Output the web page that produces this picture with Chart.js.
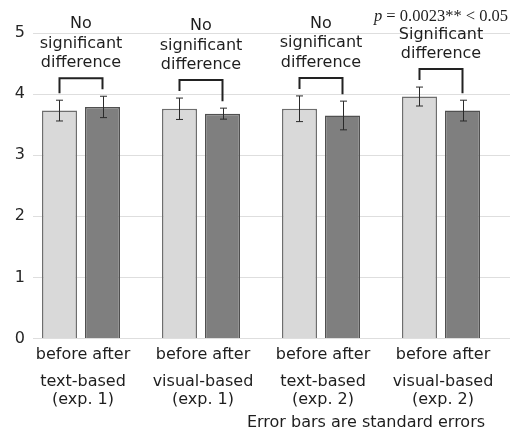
<!DOCTYPE html>
<html><head><meta charset="utf-8">
<script src="https://cdn.jsdelivr.net/npm/chart.js@4.4.0/dist/chart.umd.min.js"></script>
<style>html,body{margin:0;padding:0;background:#fff;}#wrap{width:510px;height:433px;position:relative;}</style>
</head><body><div id="wrap"><canvas id="c" width="510" height="433"></canvas></div>
<script>
// ---- data ----
const groupNames = [["text-based","(exp. 1)"],["visual-based","(exp. 1)"],["text-based","(exp. 2)"],["visual-based","(exp. 2)"]];
const conditionLabels = ["before","after"];
const beforeMeans = [3.73, 3.76, 3.76, 3.96];
const afterMeans  = [3.79, 3.68, 3.65, 3.73];
const beforeSE = [0.17, 0.175, 0.21, 0.155];
const afterSE  = [0.175, 0.09, 0.235, 0.17];
const significanceText = [
  ["No","significant","difference"],
  ["No","significant","difference"],
  ["No","significant","difference"],
  ["Significant","difference"]
];
const pValueText = [null, null, null, ["p", " = 0.0023** < 0.05"]];
const yTicks = [0,1,2,3,4,5];
const footnote = "Error bars are standard errors";

const SANS = "'DejaVu Sans', sans-serif";
const SERIF = "'Liberation Serif', serif";
const TEXT = "#1e1e1e";

const overlay = {
  id: 'overlay',
  afterDraw(chart) {
    const ctx = chart.ctx, y = chart.scales.y, area = chart.chartArea;
    const m0 = chart.getDatasetMeta(0), m1 = chart.getDatasetMeta(1);
    const means = [beforeMeans, afterMeans], ses = [beforeSE, afterSE];
    ctx.save();
    // error bars
    [m0, m1].forEach((meta, d) => {
      meta.data.forEach((el, i) => {
        const x = Math.round(el.x) + 0.5;
        const t = y.getPixelForValue(means[d][i] + ses[d][i]);
        const b = y.getPixelForValue(means[d][i] - ses[d][i]);
        ctx.strokeStyle = '#2a2a2a'; ctx.lineWidth = 1;
        ctx.beginPath();
        ctx.moveTo(x, t); ctx.lineTo(x, b);
        ctx.moveTo(x - 3.5, t); ctx.lineTo(x + 3.5, t);
        ctx.moveTo(x - 3.5, b); ctx.lineTo(x + 3.5, b);
        ctx.stroke();
      });
    });
    // brackets + text
    for (let i = 0; i < beforeMeans.length; i++) {
      const lx = m0.data[i].x, rx = m1.data[i].x;
      const tl = y.getPixelForValue(beforeMeans[i] + beforeSE[i]);
      const tr = y.getPixelForValue(afterMeans[i] + afterSE[i]);
      const top = Math.min(tl, tr) - 18;
      ctx.strokeStyle = '#222'; ctx.lineWidth = 2; ctx.lineJoin = 'miter';
      ctx.beginPath();
      ctx.moveTo(lx, tl - 7); ctx.lineTo(lx, top); ctx.lineTo(rx, top); ctx.lineTo(rx, tr - 7);
      ctx.stroke();
      const cx = (lx + rx) / 2;
      const lines = significanceText[i];
      ctx.fillStyle = TEXT; ctx.textAlign = 'center'; ctx.textBaseline = 'alphabetic';
      ctx.font = '16px ' + SANS;
      let base = top - 11;
      for (let k = lines.length - 1; k >= 0; k--) {
        ctx.fillText(lines[k], cx, base);
        base -= 19.5;
      }
      if (pValueText[i]) {
        const [pv, rest] = pValueText[i];
        ctx.font = 'italic 16.5px ' + SERIF;
        const w1 = ctx.measureText(pv).width;
        ctx.font = '16.5px ' + SERIF;
        const w2 = ctx.measureText(rest).width;
        const sx = cx - (w1 + w2) / 2;
        ctx.textAlign = 'left';
        ctx.font = 'italic 16.5px ' + SERIF;
        ctx.fillText(pv, sx, base + 2);
        ctx.font = '16.5px ' + SERIF;
        ctx.fillText(rest, sx + w1, base + 2);
        ctx.textAlign = 'center';
      }
      // x labels
      ctx.font = '16px ' + SANS;
      ctx.fillText(conditionLabels.join(' '), cx + 2, area.bottom + 20);
      ctx.fillText(groupNames[i][0], cx + 2, area.bottom + 47.5);
      ctx.fillText(groupNames[i][1], cx + 2, area.bottom + 65.5);
    }
    ctx.font = '16px ' + SANS;
    ctx.textAlign = 'center';
    ctx.fillText(footnote, 366, area.bottom + 88.5);
    ctx.restore();
  }
};

new Chart(document.getElementById('c'), {
  type: 'bar',
  data: {
    datasets: [
      { label: conditionLabels[0], data: beforeMeans.map((v, i) => ({x: i, y: v})),
        backgroundColor: '#d9d9d9', borderColor: '#6e6e6e', borderWidth: 1.5 },
      { label: conditionLabels[1], data: afterMeans.map((v, i) => ({x: i, y: v})),
        backgroundColor: '#7f7f7f', borderColor: '#505050', borderWidth: 1.5 }
    ]
  },
  options: {
    responsive: false, animation: false, devicePixelRatio: 1,
    categoryPercentage: 0.7167, barPercentage: 0.814,
    layout: { padding: { left: 15, right: 0, top: 33, bottom: 94.5 } },
    plugins: { legend: { display: false }, tooltip: { enabled: false } },
    scales: {
      x: { type: 'linear', min: -0.4, max: 3.575, offset: false, display: false,
           afterBuildTicks(s) { s.ticks = groupNames.map((g, i) => ({ value: i })); } },
      y: {
        min: 0, max: 5,
        afterBuildTicks(s) { s.ticks = yTicks.map(v => ({ value: v })); },
        afterFit(s) { s.width = 18; },
        ticks: { font: { family: SANS, size: 16 }, color: '#262626', padding: 8 },
        grid: { color: '#dedede', lineWidth: 1, drawTicks: false },
        border: { display: false }
      }
    }
  },
  plugins: [overlay]
});
</script></body></html>
